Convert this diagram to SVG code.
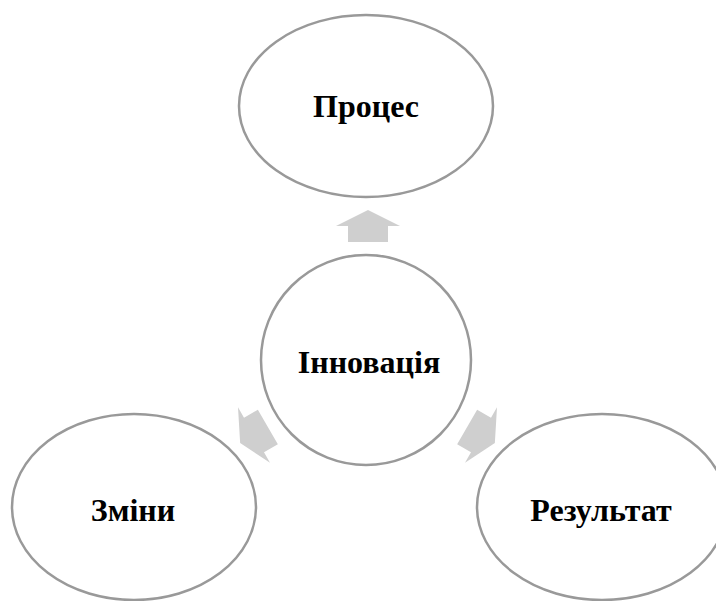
<svg xmlns="http://www.w3.org/2000/svg" width="716" height="601" viewBox="0 0 716 601">
<defs>
<style>
.node{fill:#ffffff;stroke:#999999;stroke-width:2.5}
.lbl{font-family:"Liberation Serif","Times New Roman",serif;font-weight:bold;font-size:32px;fill:#000000;text-anchor:middle}
.arr{fill:#cfcfcf}
</style>
<path id="arrowShape" d="M0,-16 L32,0 L20,0 L20,16 L-20,16 L-20,0 L-32,0 Z"/>
</defs>
<rect width="716" height="601" fill="#ffffff"/>
<g id="connectors">
<use href="#arrowShape" class="arr" transform="translate(368,226)"/>
<use href="#arrowShape" class="arr" transform="translate(254,435) rotate(-120)"/>
<use href="#arrowShape" class="arr" transform="translate(481,435) rotate(120)"/>
</g>
<g id="node-proces">
<ellipse class="node" cx="366" cy="106" rx="127" ry="91"/>
<text class="lbl" x="366" y="117">Процес</text>
</g>
<g id="node-innovatsiia">
<circle class="node" cx="366" cy="360" r="105"/>
<text class="lbl" x="369" y="373">Інновація</text>
</g>
<g id="node-zminy">
<ellipse class="node" cx="134" cy="507" rx="122" ry="93"/>
<text class="lbl" x="133" y="521">Зміни</text>
</g>
<g id="node-rezultat">
<ellipse class="node" cx="602" cy="507" rx="125" ry="93"/>
<text class="lbl" x="601" y="521">Результат</text>
</g>
</svg>
